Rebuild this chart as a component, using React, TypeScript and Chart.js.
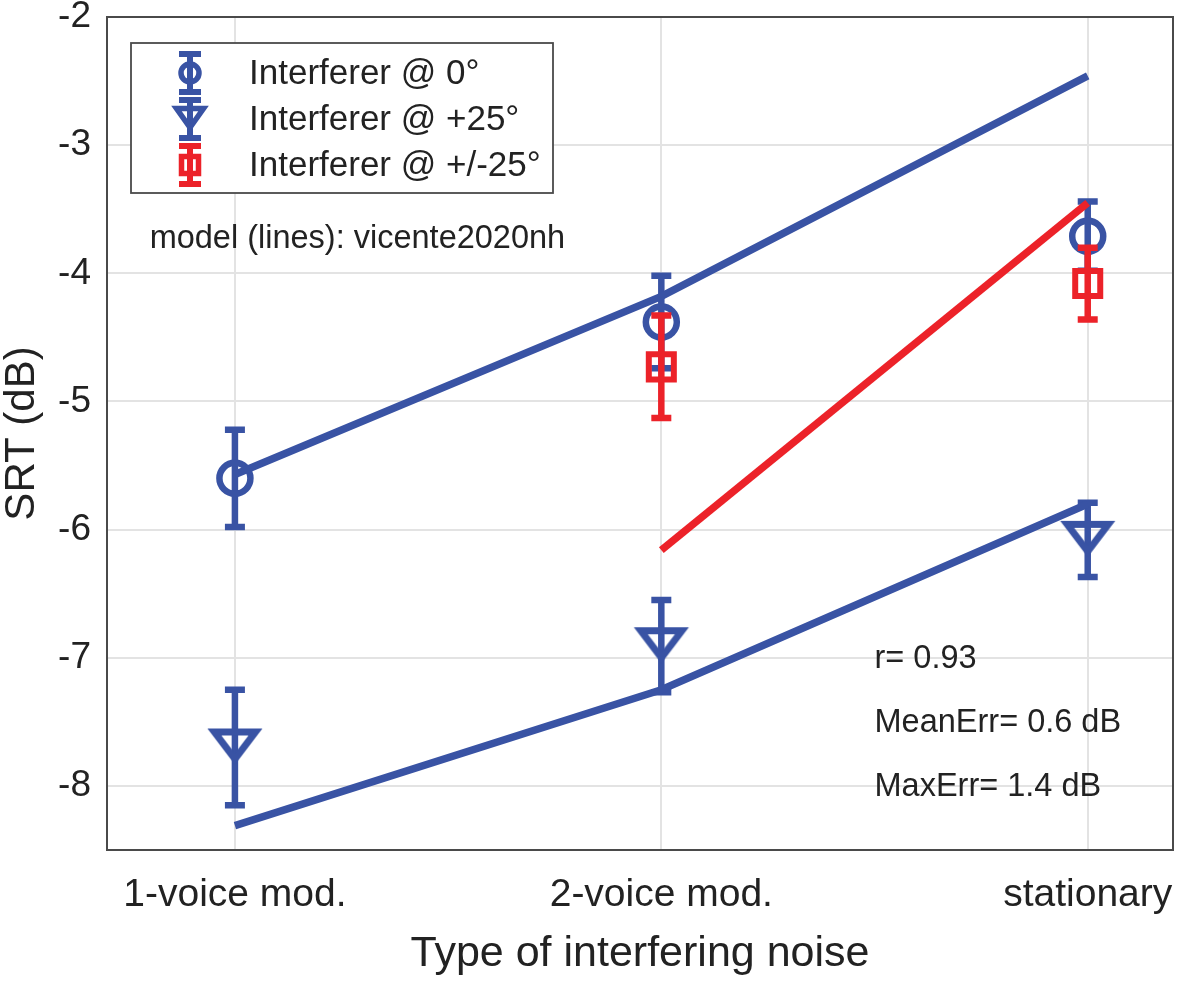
import React, { useEffect, useRef } from 'react';
import { Chart, registerables } from 'chart.js';

Chart.register(...registerables);

const categories = ['1-voice mod.', '2-voice mod.', 'stationary'];
const yTicks = [-8, -7, -6, -5, -4, -3, -2];

// measured SRTs (dB) and error bar half-lengths
const srt0 = [-5.6, -4.38, -3.71];
const err0 = [0.38, 0.36, 0.27];
const srt25 = [-7.7, -6.91, -6.08];
const err25 = [0.45, 0.36, 0.29];
const srtPm25: (number | null)[] = [null, -4.73, -4.08];
const errPm25: (number | null)[] = [null, 0.4, 0.28];

// model predictions (lines)
const model0 = [-5.57, -4.18, -2.46];
const model25 = [-8.31, -7.25, -5.8];
const modelPm25: (number | null)[] = [null, -6.16, -3.45];

const legendLabels = ['Interferer @ 0°', 'Interferer @ +25°', 'Interferer @ +/-25°'];
const statsLabels = ['r= 0.93', 'MeanErr= 0.6 dB', 'MaxErr= 1.4 dB'];
const modelLabel = 'model (lines): vicente2020nh';

const BLUE = '#3953a4';
const RED = '#ec2229';
const FONT = '"Liberation Sans", Arial, Helvetica, sans-serif';
const TEXT = '#222222';

const toPoints = (vals: (number | null)[]) =>
  vals.map((v, i) => (v === null ? null : { x: i, y: v })).filter(Boolean) as { x: number; y: number }[];
const compact = (vals: (number | null)[]) => vals.filter((v) => v !== null) as number[];

function triPath(ctx: CanvasRenderingContext2D, cx: number, cy: number, hw: number, h: number) {
  ctx.beginPath();
  ctx.moveTo(cx - hw, cy - h / 2);
  ctx.lineTo(cx + hw, cy - h / 2);
  ctx.lineTo(cx, cy + h / 2);
  ctx.closePath();
}

function makeTriangle(): HTMLCanvasElement {
  const c = document.createElement('canvas');
  c.width = 70;
  c.height = 70;
  const g = c.getContext('2d')!;
  g.strokeStyle = BLUE;
  g.lineWidth = 7;
  g.lineJoin = 'miter';
  triPath(g, 35, 33, 20.5, 27);
  g.stroke();
  return c;
}

const errorBarPlugin = {
  id: 'errorBars',
  beforeDatasetDraw(chart: any, args: any) {
    const ds = chart.data.datasets[args.index];
    if (!ds.errors) return;
    const { ctx, scales } = chart;
    ctx.save();
    ctx.strokeStyle = ds.borderColor;
    ctx.lineWidth = 6.5;
    ds.data.forEach((p: any, i: number) => {
      const e = ds.errors[i];
      const px = scales.x.getPixelForValue(p.x);
      const top = scales.y.getPixelForValue(p.y + e);
      const bot = scales.y.getPixelForValue(p.y - e);
      ctx.beginPath();
      ctx.moveTo(px, top);
      ctx.lineTo(px, bot);
      ctx.moveTo(px - 10, top);
      ctx.lineTo(px + 10, top);
      ctx.moveTo(px - 10, bot);
      ctx.lineTo(px + 10, bot);
      ctx.stroke();
    });
    ctx.restore();
  },
};

function legendIcon(ctx: CanvasRenderingContext2D, kind: number, cx: number, cy: number) {
  const color = kind === 2 ? RED : BLUE;
  ctx.strokeStyle = color;
  ctx.lineWidth = 6;
  ctx.beginPath();
  ctx.moveTo(cx, cy - 19);
  ctx.lineTo(cx, cy + 19);
  ctx.moveTo(cx - 11, cy - 19);
  ctx.lineTo(cx + 11, cy - 19);
  ctx.moveTo(cx - 11, cy + 19);
  ctx.lineTo(cx + 11, cy + 19);
  ctx.stroke();
  ctx.lineWidth = 5.5;
  if (kind === 0) {
    ctx.beginPath();
    ctx.arc(cx, cy, 9, 0, Math.PI * 2);
    ctx.stroke();
  } else if (kind === 1) {
    triPath(ctx, cx, cy - 1, 13.5, 19);
    ctx.stroke();
  } else {
    ctx.strokeRect(cx - 8.5, cy - 8.5, 17, 17);
  }
}

const decorPlugin = {
  id: 'decor',
  afterDraw(chart: any) {
    const { ctx, chartArea, scales } = chart;
    ctx.save();
    // axes frame
    ctx.strokeStyle = '#4a4a4a';
    ctx.lineWidth = 2;
    ctx.strokeRect(chartArea.left, chartArea.top, chartArea.right - chartArea.left, chartArea.bottom - chartArea.top);

    // legend box
    const bx = chartArea.left + 24;
    const by = chartArea.top + 26;
    ctx.fillStyle = '#ffffff';
    ctx.fillRect(bx, by, 422, 150);
    ctx.strokeStyle = '#4a4a4a';
    ctx.lineWidth = 1.8;
    ctx.strokeRect(bx, by, 422, 150);
    ctx.font = `35px ${FONT}`;
    ctx.textBaseline = 'middle';
    ctx.textAlign = 'left';
    legendLabels.forEach((label, i) => {
      const cy = by + 30 + i * 46;
      legendIcon(ctx, i, bx + 59, cy);
      ctx.fillStyle = TEXT;
      ctx.fillText(label, bx + 118, cy + 1);
    });

    // annotations
    ctx.fillStyle = TEXT;
    ctx.font = `32.5px ${FONT}`;
    ctx.fillText(modelLabel, scales.x.getPixelForValue(-0.2), scales.y.getPixelForValue(-3.73));
    statsLabels.forEach((label, i) => {
      ctx.fillText(label, scales.x.getPixelForValue(1.5), scales.y.getPixelForValue(-7.01 - i * 0.5));
    });
    ctx.restore();
  },
};

const App: React.FC = () => {
  const chartRef = useRef<HTMLCanvasElement | null>(null);
  const chartInstance = useRef<Chart | null>(null);

  useEffect(() => {
    document.body.style.margin = '0';
    if (!chartRef.current) return;
    if (chartInstance.current) chartInstance.current.destroy();
    const ctx = chartRef.current.getContext('2d');
    if (!ctx) return;

    const triangle = makeTriangle();
    const lineStyle = (data: (number | null)[], color: string, order: number) => ({
      type: 'line' as const,
      data: toPoints(data),
      borderColor: color,
      borderWidth: 7.5,
      pointRadius: 0,
      showLine: true,
      fill: false,
      tension: 0,
      order,
    });

    chartInstance.current = new Chart(ctx, {
      type: 'scatter',
      data: {
        datasets: [
          {
            label: legendLabels[0],
            data: toPoints(srt0),
            errors: err0,
            borderColor: BLUE,
            backgroundColor: 'transparent',
            pointStyle: 'circle',
            pointRadius: 15.5,
            borderWidth: 6.5,
            order: 6,
          } as any,
          {
            label: legendLabels[1],
            data: toPoints(srt25),
            errors: err25,
            borderColor: BLUE,
            backgroundColor: 'transparent',
            pointStyle: triangle,
            pointRadius: 20,
            order: 5,
          } as any,
          {
            label: legendLabels[2],
            data: toPoints(srtPm25),
            errors: compact(errPm25),
            borderColor: RED,
            backgroundColor: 'transparent',
            pointStyle: 'rect',
            pointRadius: 17.7,
            borderWidth: 6,
            order: 4,
          } as any,
          lineStyle(model0, BLUE, 3),
          lineStyle(model25, BLUE, 2),
          lineStyle(modelPm25, RED, 1),
        ],
      },
      options: {
        responsive: true,
        maintainAspectRatio: false,
        animation: false,
        layout: { autoPadding: false, padding: { top: 17, right: 27, left: 0, bottom: 0 } },
        plugins: {
          legend: { display: false },
          tooltip: { enabled: false },
        },
        scales: {
          x: {
            type: 'linear',
            min: -0.3,
            max: 2.2,
            afterBuildTicks: (scale: any) => {
              scale.ticks = categories.map((_, i) => ({ value: i }));
            },
            afterFit: (scale: any) => {
              scale.height = 135;
              scale.paddingLeft = 0;
              scale.paddingRight = 0;
            },
            ticks: {
              callback: (v: any) => categories[v] ?? '',
              color: TEXT,
              font: { family: FONT, size: 39 },
              padding: 22,
              maxRotation: 0,
              autoSkip: false,
            },
            grid: { color: '#e3e3e3', lineWidth: 2, drawTicks: false },
            border: { display: false },
            title: {
              display: true,
              text: 'Type of interfering noise',
              color: TEXT,
              font: { family: FONT, size: 43, lineHeight: 1 },
              padding: { top: 0, bottom: 9 },
            },
          },
          y: {
            type: 'linear',
            min: -8.5,
            max: -2,
            afterBuildTicks: (scale: any) => {
              scale.ticks = yTicks.map((v) => ({ value: v }));
            },
            afterFit: (scale: any) => {
              scale.width = 107;
              scale.paddingTop = 0;
              scale.paddingBottom = 0;
            },
            ticks: {
              callback: (v: any) => String(v),
              color: TEXT,
              font: { family: FONT, size: 37 },
              padding: 16,
            },
            grid: { color: '#e3e3e3', lineWidth: 2, drawTicks: false },
            border: { display: false },
            title: {
              display: true,
              text: 'SRT (dB)',
              color: TEXT,
              font: { family: FONT, size: 42, lineHeight: 1 },
              padding: { top: 1, bottom: 0 },
            },
          },
        },
      },
      plugins: [errorBarPlugin, decorPlugin],
    } as any);

    return () => {
      if (chartInstance.current) {
        chartInstance.current.destroy();
        chartInstance.current = null;
      }
    };
  }, []);

  return (
    <div style={{ width: '1200px', height: '985px', position: 'relative' }}>
      <canvas ref={chartRef} />
    </div>
  );
};

export default App;
